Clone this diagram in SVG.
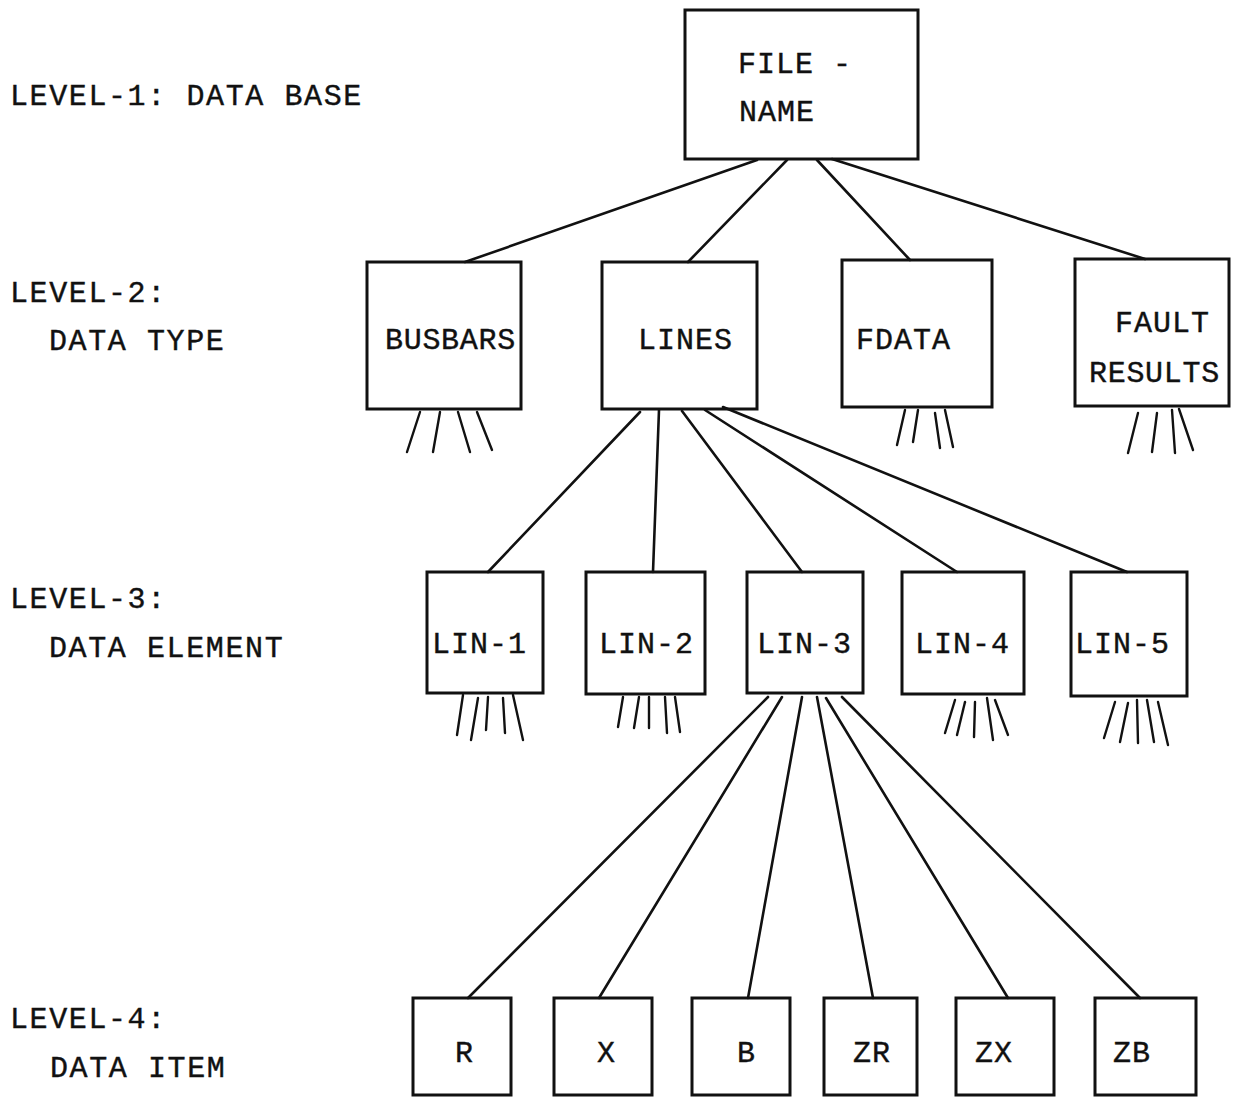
<svg xmlns="http://www.w3.org/2000/svg" width="1241" height="1099" viewBox="0 0 1241 1099">
<style>
  text { font-family: "Liberation Mono", "Courier New", monospace; font-size: 30px; fill: #111; stroke: #111; stroke-width: 0.4; letter-spacing: 1px; }
  .lbl { letter-spacing: 1.6px; }
  .box { fill: none; stroke: #111; stroke-width: 3; }
  .con line { stroke: #111; stroke-width: 2.6; stroke-linecap: round; }
  .stub line { stroke: #111; stroke-width: 2.4; stroke-linecap: round; }
</style>
<rect width="1241" height="1099" fill="#fff"/>

<g id="labels">
  <text class="lbl" x="10" y="105">LEVEL-1: DATA BASE</text>
  <text class="lbl" x="10" y="302">LEVEL-2:</text>
  <text class="lbl" x="49" y="350">DATA TYPE</text>
  <text class="lbl" x="10" y="608">LEVEL-3:</text>
  <text class="lbl" x="49" y="657">DATA ELEMENT</text>
  <text class="lbl" x="10" y="1028">LEVEL-4:</text>
  <text class="lbl" x="50" y="1077">DATA ITEM</text>
</g>

<g id="connectors" class="con">
  <line x1="757" y1="160" x2="465" y2="262"/>
  <line x1="787" y1="160" x2="688" y2="262"/>
  <line x1="817" y1="160" x2="910" y2="260"/>
  <line x1="832" y1="159" x2="1145" y2="259"/>
  <line x1="640" y1="412" x2="488" y2="572"/>
  <line x1="659" y1="410" x2="653" y2="572"/>
  <line x1="682" y1="411" x2="802" y2="572"/>
  <line x1="705" y1="410" x2="957" y2="572"/>
  <line x1="723" y1="407" x2="1127" y2="572"/>
  <line x1="768" y1="697" x2="468" y2="998"/>
  <line x1="782" y1="697" x2="599" y2="998"/>
  <line x1="802" y1="697" x2="748" y2="998"/>
  <line x1="817" y1="697" x2="873" y2="998"/>
  <line x1="826" y1="698" x2="1008" y2="998"/>
  <line x1="842" y1="697" x2="1140" y2="998"/>
</g>

<g id="file-name">
  <rect class="box" x="685" y="10" width="233" height="149"/>
  <text x="738" y="73">FILE -</text>
  <text x="739" y="121">NAME</text>
</g>

<g id="busbars">
  <rect class="box" x="367" y="262" width="154" height="147"/>
  <text x="385" y="349" style="letter-spacing:0.7px">BUSBARS</text>
  <g class="stub">
    <line x1="420" y1="412" x2="407" y2="452"/>
    <line x1="440" y1="412" x2="433" y2="452"/>
    <line x1="458" y1="412" x2="470" y2="452"/>
    <line x1="477" y1="412" x2="492" y2="450"/>
  </g>
</g>

<g id="lines">
  <rect class="box" x="602" y="262" width="155" height="147"/>
  <text x="638" y="349">LINES</text>
</g>

<g id="fdata">
  <rect class="box" x="842" y="260" width="150" height="147"/>
  <text x="856" y="349">FDATA</text>
  <g class="stub">
    <line x1="905" y1="410" x2="897" y2="445"/>
    <line x1="918" y1="410" x2="913" y2="442"/>
    <line x1="935" y1="413" x2="940" y2="448"/>
    <line x1="945" y1="410" x2="953" y2="447"/>
  </g>
</g>

<g id="fault-results">
  <rect class="box" x="1075" y="259" width="154" height="147"/>
  <text x="1115" y="332">FAULT</text>
  <text x="1089" y="382" style="letter-spacing:0.7px">RESULTS</text>
  <g class="stub">
    <line x1="1138" y1="413" x2="1128" y2="453"/>
    <line x1="1157" y1="413" x2="1152" y2="452"/>
    <line x1="1172" y1="410" x2="1175" y2="453"/>
    <line x1="1179" y1="409" x2="1193" y2="450"/>
  </g>
</g>

<g id="lin-1">
  <rect class="box" x="427" y="572" width="116" height="121"/>
  <text x="432" y="653">LIN-1</text>
  <g class="stub">
    <line x1="463" y1="695" x2="457" y2="735"/>
    <line x1="478" y1="698" x2="471" y2="740"/>
    <line x1="488" y1="697" x2="486" y2="730"/>
    <line x1="503" y1="698" x2="505" y2="733"/>
    <line x1="513" y1="695" x2="523" y2="740"/>
  </g>
</g>

<g id="lin-2">
  <rect class="box" x="586" y="572" width="119" height="122"/>
  <text x="599" y="653">LIN-2</text>
  <g class="stub">
    <line x1="623" y1="697" x2="618" y2="727"/>
    <line x1="639" y1="697" x2="634" y2="728"/>
    <line x1="649" y1="697" x2="649" y2="728"/>
    <line x1="665" y1="697" x2="667" y2="733"/>
    <line x1="675" y1="697" x2="680" y2="732"/>
  </g>
</g>

<g id="lin-3">
  <rect class="box" x="747" y="572" width="116" height="121"/>
  <text x="757" y="653">LIN-3</text>
</g>

<g id="lin-4">
  <rect class="box" x="902" y="572" width="122" height="122"/>
  <text x="915" y="653">LIN-4</text>
  <g class="stub">
    <line x1="955" y1="700" x2="945" y2="733"/>
    <line x1="965" y1="702" x2="957" y2="735"/>
    <line x1="975" y1="702" x2="974" y2="737"/>
    <line x1="987" y1="698" x2="993" y2="740"/>
    <line x1="995" y1="700" x2="1008" y2="735"/>
  </g>
</g>

<g id="lin-5">
  <rect class="box" x="1071" y="572" width="116" height="124"/>
  <text x="1075" y="653">LIN-5</text>
  <g class="stub">
    <line x1="1115" y1="702" x2="1104" y2="738"/>
    <line x1="1128" y1="703" x2="1120" y2="742"/>
    <line x1="1137" y1="700" x2="1138" y2="743"/>
    <line x1="1147" y1="700" x2="1154" y2="742"/>
    <line x1="1158" y1="702" x2="1168" y2="745"/>
  </g>
</g>

<g id="item-r">
  <rect class="box" x="413" y="998" width="98" height="97"/>
  <text x="455" y="1062">R</text>
</g>
<g id="item-x">
  <rect class="box" x="554" y="998" width="98" height="97"/>
  <text x="597" y="1062">X</text>
</g>
<g id="item-b">
  <rect class="box" x="692" y="998" width="98" height="97"/>
  <text x="737" y="1062">B</text>
</g>
<g id="item-zr">
  <rect class="box" x="824" y="998" width="93" height="97"/>
  <text x="853" y="1062">ZR</text>
</g>
<g id="item-zx">
  <rect class="box" x="956" y="998" width="98" height="97"/>
  <text x="975" y="1062">ZX</text>
</g>
<g id="item-zb">
  <rect class="box" x="1095" y="998" width="101" height="97"/>
  <text x="1113" y="1062">ZB</text>
</g>
</svg>
